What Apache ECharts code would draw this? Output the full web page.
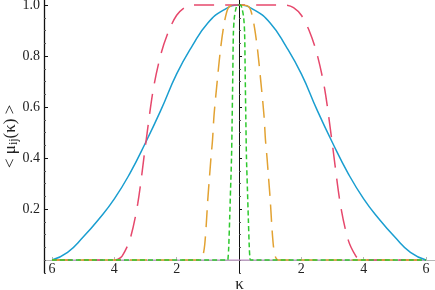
<!DOCTYPE html>
<html><head><meta charset="utf-8">
<script src="https://cdn.jsdelivr.net/npm/echarts@6/dist/echarts.min.js"></script>
<style>html,body{margin:0;padding:0;background:#fff}#c{width:435px;height:290px}</style>
</head><body><div id="c"></div>
<script>
// ---- data ----
const blueK  = [-6,-5.5,-5,-4.5,-4,-3.5,-3,-2.5,-2,-1.5,-1,-0.5,0,0.5,1,1.5,2,2.5,3,3.5,4,4.5,5,5.5,6];
const blueMu = [0,0.03,0.09,0.16,0.24,0.34,0.46,0.59,0.73,0.84,0.93,0.98,1,0.98,0.93,0.84,0.73,0.59,0.46,0.34,0.24,0.16,0.09,0.03,0];

const redK  = [-6,-4,-3.88,-3.75,-3.5,-3.25,-3,-2.75,-2.5,-2.25,-2,-1.75,-1.5,-1,0,1,1.5,1.75,2,2.25,2.5,2.75,3,3.25,3.5,3.75,3.88,4,6];
const redMu = [0,0,0.003,0.015,0.08,0.22,0.45,0.67,0.81,0.9,0.96,0.99,1,1,1,1,1,0.99,0.96,0.9,0.81,0.67,0.45,0.22,0.08,0.015,0.003,0,0];

const orangeK  = [-6,-1.25,-1.2,-1.15,-1.1,-1.05,-1,-0.95,-0.9,-0.85,-0.8,-0.7,-0.6,-0.5,-0.4,-0.3,0,0.3,0.4,0.5,0.6,0.7,0.8,0.85,0.9,0.95,1,1.05,1.1,1.15,1.2,1.25,6];
const orangeMu = [0,0,0.005,0.02,0.06,0.14,0.24,0.32,0.4,0.47,0.57,0.7,0.82,0.91,0.97,0.995,1,0.995,0.97,0.91,0.82,0.7,0.57,0.47,0.4,0.32,0.24,0.14,0.06,0.02,0.005,0,0];

const greenK  = [-6,-0.37,-0.35,-0.33,-0.3,-0.27,-0.24,-0.22,-0.2,-0.18,-0.15,-0.1,-0.05,0,0.05,0.1,0.15,0.18,0.2,0.22,0.24,0.27,0.3,0.33,0.35,0.37,6];
const greenMu = [0,0,0.01,0.05,0.16,0.28,0.4,0.55,0.72,0.89,0.95,0.985,1,1,1,0.985,0.95,0.89,0.72,0.55,0.4,0.28,0.16,0.05,0.01,0,0];

const baseK  = [-6,6];
const baseMu = [0,0];

const xTicks = [-6,-4,-2,2,4,6];
const yTicks = [0.2,0.4,0.6,0.8,1.0];
const yMinor = [-0.05,0,0.05,0.1,0.15,0.25,0.3,0.35,0.45,0.5,0.55,0.65,0.7,0.75,0.85,0.9,0.95];

const zip = (a,b) => a.map((v,i)=>[v,b[i]]);
const serif = "'Liberation Serif','DejaVu Serif',serif";

const chart = echarts.init(document.getElementById('c'), null, {renderer:'canvas'});
const yBase = {type:'value', min:-0.05, max:1.02, splitLine:{show:false}, position:'left'};
chart.setOption({
  animation:false,
  grid:{left:44, right:0, top:0, bottom:17.25, containLabel:false, outerBoundsMode:'none'},
  xAxis:{
    type:'value', min:-6.2567, max:6.2888,
    splitLine:{show:false},
    axisLine:{onZero:true, lineStyle:{color:'#b5b5b5', width:1}},
    axisTick:{show:true, inside:true, length:3, customValues:xTicks, lineStyle:{color:'#b5b5b5'}},
    axisLabel:{customValues:xTicks, formatter:v=>String(Math.abs(v)), fontFamily:serif, fontSize:14, color:'#222', margin:-10},
    name:'κ', nameLocation:'middle', nameGap:3, nameMoveOverlap:false,
    nameTextStyle:{fontFamily:serif, fontSize:17, color:'#222'}
  },
  yAxis:[
    Object.assign({}, yBase, {
      axisLine:{show:true, onZero:false, lineStyle:{color:'#111', width:1.3}},
      axisTick:{show:true, inside:true, length:4, customValues:yTicks, lineStyle:{color:'#111'}},
      axisLabel:{customValues:yTicks, formatter:v=>v.toFixed(1), fontFamily:serif, fontSize:14, color:'#222', margin:4},
      name:'< μ{s|ij}(κ) >', nameLocation:'middle', nameGap:24, nameRotate:90, nameMoveOverlap:false,
      nameTextStyle:{fontFamily:serif, fontSize:17, color:'#222', rich:{s:{fontFamily:serif, fontSize:12, color:'#222', padding:[7,0,0,0]}}}
    }),
    Object.assign({}, yBase, {
      axisLine:{show:false, onZero:false},
      axisTick:{show:true, inside:true, length:2, customValues:yMinor, lineStyle:{color:'#555'}},
      axisLabel:{show:false}
    }),
    Object.assign({}, yBase, {
      offset:-195,
      axisLine:{show:true, onZero:false, lineStyle:{color:'#111', width:1}},
      axisTick:{show:true, inside:true, length:3, customValues:yTicks, lineStyle:{color:'#111'}},
      axisLabel:{show:false}
    }),
    Object.assign({}, yBase, {
      offset:-195,
      axisLine:{show:false, onZero:false},
      axisTick:{show:true, inside:true, length:2, customValues:yMinor, lineStyle:{color:'#555'}},
      axisLabel:{show:false}
    })
  ],
  series:[
    {type:'line', data:zip(baseK,baseMu), showSymbol:false, lineStyle:{color:'#c08ac8', width:1}, z:1},
    {type:'line', data:zip(blueK,blueMu), showSymbol:false, smooth:0.5, lineStyle:{color:'#1a9ed0', width:1.5}, z:2},
    {type:'line', data:zip(redK,redMu), showSymbol:false, smooth:0.3, lineStyle:{color:'#e6486c', width:1.5, type:[20,11]}, z:3},
    {type:'line', data:zip(orangeK,orangeMu), showSymbol:false, smooth:0.3, lineStyle:{color:'#e2a232', width:1.5, type:[17,9]}, z:4},
    {type:'line', data:zip(greenK,greenMu), showSymbol:false, smooth:0.3, lineStyle:{color:'#2ec82e', width:1.5, type:[5,3]}, z:5}
  ]
});
</script>
</body></html>
